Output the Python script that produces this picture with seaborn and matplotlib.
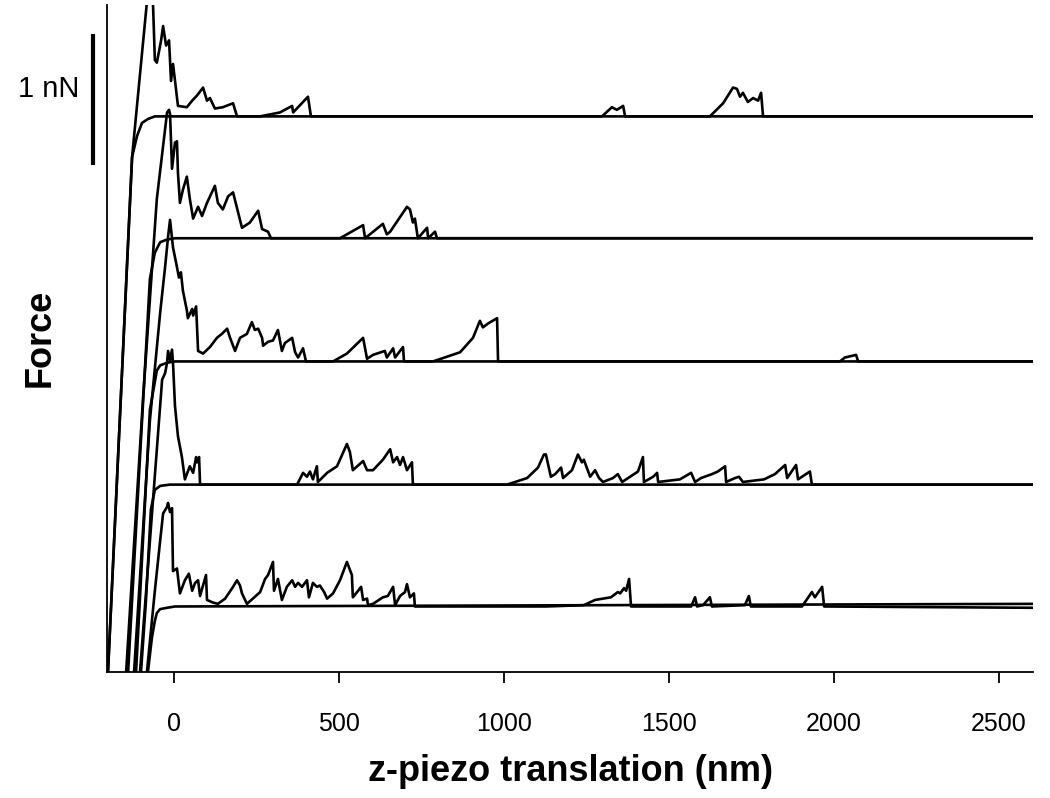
import numpy as np
import pandas as pd
import matplotlib
matplotlib.use("Agg")
import matplotlib.pyplot as plt
import seaborn as sns

# ── Data (x in nm, force in nN relative to each trace's baseline) ─────────────
OFFSETS = [4.24, 3.31, 2.37, 1.43, 0.50]   # baseline of each stacked trace (nN)

# trace 1 (top)
RET1_X = [-200, -127, -73, -64, -58, -52, -39, -33, -24, -15, -9, -3, 6, 12, 39, 55, 70, 88,
          100, 109, 124, 148, 179, 191, 261, 321, 358, 361, 406, 415, 1297, 1327, 1342, 1361,
          1367, 1624, 1664, 1694, 1706, 1715, 1724, 1739, 1755, 1770, 1779, 1785, 2603]
RET1_F = [-4.24, -0.31, 1.11, 0.89, 0.43, 0.41, 0.58, 0.69, 0.54, 0.58, 0.27, 0.40, 0.21, 0.08,
          0.07, 0.12, 0.16, 0.22, 0.12, 0.14, 0.06, 0.07, 0.10, 0.0, 0.0, 0.03, 0.08, 0.03, 0.15,
          0.0, 0.0, 0.07, 0.05, 0.08, 0.0, 0.0, 0.10, 0.22, 0.21, 0.15, 0.18, 0.11, 0.14, 0.12,
          0.18, 0.0, 0.0]
APP1_X = [-200, -127, -112, -97, -79, -58, 2603]
APP1_F = [-4.24, -0.31, -0.15, -0.05, -0.02, 0.0, 0.0]

# trace 2
RET2_X = [-145, -94, -52, -21, -15, -12, -6, 3, 9, 12, 18, 27, 39, 48, 58, 73, 85, 100, 124,
          133, 148, 164, 179, 194, 206, 230, 255, 267, 285, 294, 503, 573, 579, 633, 645, 655,
          706, 715, 724, 730, 739, 767, 770, 791, 797, 2603]
RET2_F = [-3.31, -1.23, 0.30, 0.96, 0.98, 0.95, 0.53, 0.73, 0.74, 0.50, 0.27, 0.37, 0.47, 0.30,
          0.15, 0.24, 0.17, 0.27, 0.40, 0.27, 0.22, 0.32, 0.35, 0.20, 0.08, 0.12, 0.21, 0.07,
          0.05, 0.0, 0.0, 0.10, 0.0, 0.11, 0.03, 0.05, 0.24, 0.22, 0.12, 0.15, 0.0, 0.08, 0.0,
          0.05, 0.0, 0.0]
APP2_X = [-139, -73, -58, -42, -21, 3, 2603]
APP2_F = [-3.31, -0.31, -0.11, -0.03, -0.01, 0.0, 0.0]

# trace 3
RET3_X = [-121, -73, -42, -27, -18, -12, -3, 9, 15, 21, 27, 39, 42, 55, 58, 67, 73, 88, 109,
          130, 145, 161, 170, 185, 200, 221, 236, 245, 255, 267, 270, 285, 300, 315, 327, 336,
          358, 367, 376, 391, 400, 482, 524, 573, 585, 603, 639, 645, 664, 670, 694, 697, 785,
          867, 906, 927, 936, 952, 979, 982, 2018, 2033, 2067, 2073, 2603]
RET3_F = [-2.37, -0.45, 0.37, 0.72, 0.95, 1.08, 0.87, 0.72, 0.64, 0.68, 0.54, 0.39, 0.33, 0.40,
          0.35, 0.42, 0.08, 0.06, 0.11, 0.18, 0.21, 0.25, 0.18, 0.08, 0.18, 0.21, 0.30, 0.24,
          0.25, 0.18, 0.12, 0.15, 0.16, 0.24, 0.08, 0.14, 0.18, 0.07, 0.03, 0.10, 0.0, 0.0,
          0.06, 0.18, 0.02, 0.05, 0.08, 0.03, 0.10, 0.03, 0.11, 0.0, 0.0, 0.07, 0.18, 0.31,
          0.26, 0.29, 0.33, 0.0, 0.0, 0.03, 0.05, 0.0, 0.0]
APP3_X = [-115, -73, -52, -42, -21, 3, 2603]
APP3_F = [-2.37, -0.37, -0.07, -0.03, -0.01, 0.0, 0.0]

# trace 4
RET4_X = [-103, -36, -27, -21, -18, -12, -6, -3, 3, 12, 18, 24, 33, 48, 58, 67, 70, 76, 79,
          373, 391, 403, 412, 421, 433, 436, 464, 494, 524, 533, 542, 573, 585, 603, 633, 655,
          664, 676, 685, 694, 706, 721, 724, 1009, 1070, 1103, 1121, 1127, 1142, 1155, 1173,
          1179, 1206, 1224, 1236, 1242, 1261, 1276, 1288, 1300, 1330, 1345, 1358, 1406, 1421,
          1424, 1452, 1464, 1467, 1533, 1567, 1579, 1597, 1630, 1648, 1670, 1673, 1700, 1712,
          1724, 1788, 1821, 1852, 1858, 1885, 1891, 1927, 1933, 2603]
RET4_F = [-1.43, 0.80, 0.85, 0.93, 1.02, 0.95, 1.03, 0.93, 0.60, 0.37, 0.29, 0.21, 0.04, 0.14,
          0.09, 0.21, 0.17, 0.21, 0.0, 0.0, 0.09, 0.06, 0.10, 0.04, 0.14, 0.02, 0.09, 0.14, 0.31,
          0.25, 0.11, 0.18, 0.11, 0.11, 0.19, 0.27, 0.17, 0.21, 0.15, 0.21, 0.11, 0.17, 0.0,
          0.0, 0.05, 0.13, 0.23, 0.23, 0.06, 0.08, 0.13, 0.05, 0.11, 0.23, 0.17, 0.19, 0.06,
          0.11, 0.05, 0.02, 0.05, 0.08, 0.02, 0.10, 0.21, 0.02, 0.06, 0.09, 0.02, 0.04, 0.09,
          0.02, 0.05, 0.08, 0.10, 0.14, 0.02, 0.05, 0.06, 0.02, 0.04, 0.08, 0.15, 0.05, 0.15,
          0.04, 0.10, 0.0, 0.0]
APP4_X = [-100, -85, -70, -58, -42, -12, 2603]
APP4_F = [-1.43, -0.89, -0.19, -0.04, -0.01, 0.0, 0.0]

# trace 5 (bottom)
RET5_X = [-82, -58, -42, -33, -21, -18, -12, -6, -3, 9, 18, 33, 45, 55, 64, 73, 79, 97, 100,
          118, 133, 155, 179, 191, 200, 206, 221, 239, 261, 276, 285, 300, 303, 315, 327, 342,
          358, 367, 376, 388, 403, 409, 421, 433, 442, 455, 464, 482, 503, 524, 530, 539, 542,
          558, 567, 573, 585, 588, 603, 633, 648, 664, 670, 685, 700, 706, 715, 727, 730, 1127,
          1242, 1276, 1300, 1324, 1345, 1352, 1364, 1370, 1379, 1385, 1567, 1579, 1585, 1603,
          1624, 1630, 1730, 1742, 1748, 1903, 1933, 1942, 1964, 1970, 2603]
RET5_F = [-0.50, 0.12, 0.50, 0.71, 0.76, 0.79, 0.72, 0.75, 0.27, 0.29, 0.10, 0.20, 0.25, 0.12,
          0.18, 0.20, 0.08, 0.24, 0.05, 0.03, 0.02, 0.06, 0.15, 0.20, 0.16, 0.10, 0.02, 0.06,
          0.11, 0.21, 0.24, 0.34, 0.12, 0.21, 0.05, 0.15, 0.20, 0.15, 0.18, 0.15, 0.20, 0.07,
          0.18, 0.15, 0.16, 0.11, 0.06, 0.10, 0.20, 0.34, 0.30, 0.24, 0.07, 0.12, 0.15, 0.05,
          0.06, 0.01, 0.02, 0.07, 0.08, 0.15, 0.01, 0.08, 0.11, 0.17, 0.07, 0.10, 0.0, 0.0,
          0.01, 0.05, 0.06, 0.07, 0.11, 0.10, 0.14, 0.12, 0.21, 0.0, 0.0, 0.07, 0.0, 0.01,
          0.07, 0.0, 0.01, 0.08, 0.0, 0.0, 0.11, 0.07, 0.15, 0.0, -0.01]
APP5_X = [-79, -67, -58, -52, -42, -21, 3, 2603]
APP5_F = [-0.50, -0.24, -0.11, -0.05, -0.02, -0.01, 0.0, 0.02]

XTICKS = [0, 500, 1000, 1500, 2000, 2500]
XLIM = (-203, 2603)
YLIM = (0, 5.09)
SCALE_BAR_NN = 1.0

CURVES = [
    (RET1_X, RET1_F), (APP1_X, APP1_F),
    (RET2_X, RET2_F), (APP2_X, APP2_F),
    (RET3_X, RET3_F), (APP3_X, APP3_F),
    (RET4_X, RET4_F), (APP4_X, APP4_F),
    (RET5_X, RET5_F), (APP5_X, APP5_F),
]

# ── Build long table ─────────────────────────────────────────────────────────
rows = []
for i, (xs, fs) in enumerate(CURVES):
    assert len(xs) == len(fs), (i, len(xs), len(fs))
    off = OFFSETS[i // 2]
    for x, f in zip(xs, fs):
        rows.append({"curve": i, "x": x, "force": f + off})
df = pd.DataFrame(rows)

# ── Plot ─────────────────────────────────────────────────────────────────────
sns.set_style("ticks")
plt.rcParams["font.family"] = ["Liberation Sans", "DejaVu Sans"]
plt.rcParams["text.color"] = "black"
plt.rcParams["axes.labelcolor"] = "black"
plt.rcParams["xtick.color"] = "black"
plt.rcParams["xtick.labelcolor"] = "black"

fig = plt.figure(figsize=(10.5, 7.98), dpi=100)
ax = fig.add_axes([107 / 1050, 1 - 672 / 798, (1033 - 107) / 1050, 667 / 798])

sns.lineplot(data=df, x="x", y="force", units="curve", estimator=None, sort=False,
             color="black", linewidth=1.9, legend=False, ax=ax)

ax.set_xlim(*XLIM)
ax.set_ylim(*YLIM)
ax.set_xticks(XTICKS)
ax.set_xticklabels([str(t) for t in XTICKS], fontsize=18, color="black")
ax.set_yticks([])
ax.tick_params(axis="x", direction="out", length=8, width=1.3, pad=21, colors="black")
for side in ("top", "right"):
    ax.spines[side].set_visible(False)
for side in ("left", "bottom"):
    ax.spines[side].set_linewidth(1.3)
    ax.spines[side].set_color("black")

ax.set_xlabel("z-piezo translation (nm)", fontsize=26, fontweight="bold", labelpad=13,
              color="black")
ax.set_ylabel("")
fig.text(40 / 1050, 1 - 338 / 798, "Force", rotation=90, fontsize=26, fontweight="bold",
         ha="center", va="center", color="black")

# 1 nN scale bar
bar_x = -245
bar_y0 = 3.87
ax.plot([bar_x, bar_x], [bar_y0, bar_y0 + SCALE_BAR_NN], color="black", linewidth=3,
        clip_on=False, solid_capstyle="butt")
fig.text(79 / 1050, 1 - 89 / 798, "1 nN", fontsize=21, ha="right", va="center",
         color="black")

fig.savefig("out.png", dpi=100)
